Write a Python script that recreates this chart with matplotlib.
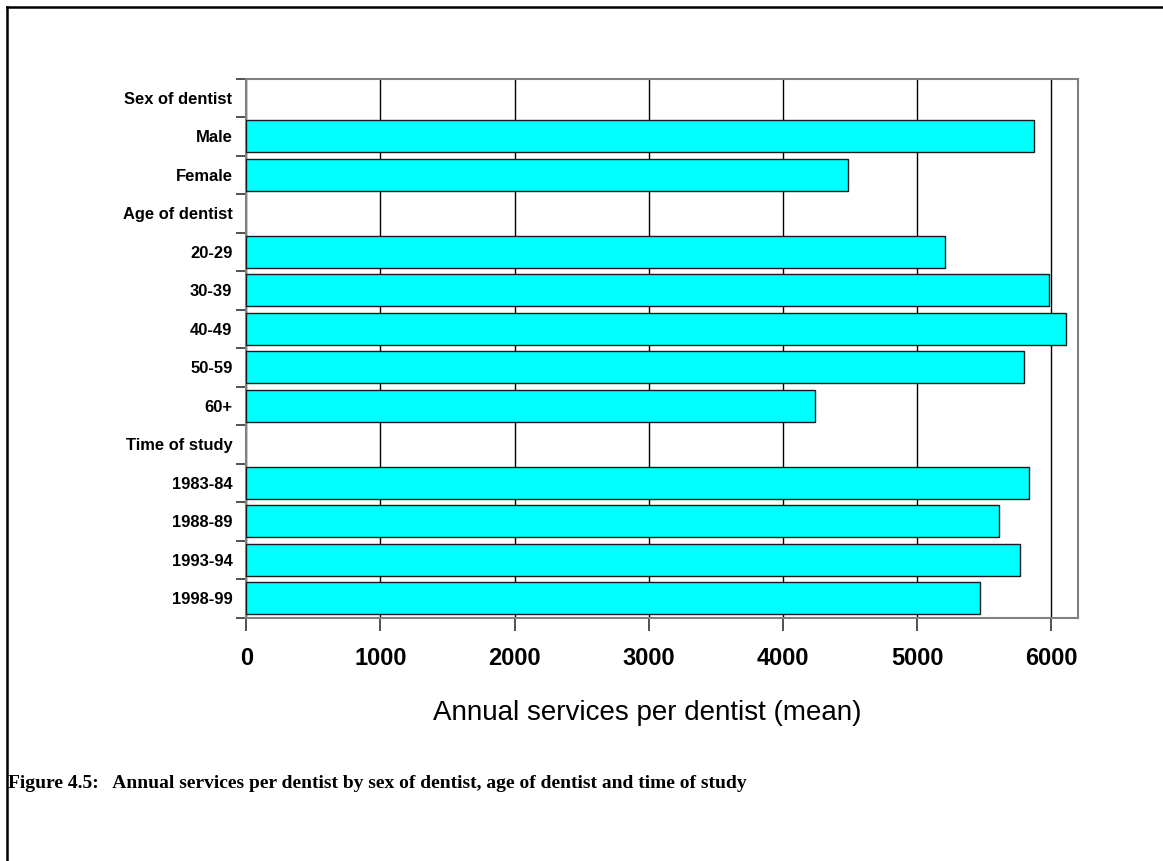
import numpy as np
import matplotlib
matplotlib.use('Agg')
import matplotlib.pyplot as plt
from matplotlib.lines import Line2D

# rows from top to bottom; header rows have no bar
categories = ['Sex of dentist', 'Male', 'Female',
              'Age of dentist', '20-29', '30-39', '40-49', '50-59', '60+',
              'Time of study', '1983-84', '1988-89', '1993-94', '1998-99']
values = [np.nan, 5870, 4483,
          np.nan, 5212, 5985, 6110, 5796, 4242,
          np.nan, 5836, 5610, 5767, 5470]
xticks = [0, 1000, 2000, 3000, 4000, 5000, 6000]
xlabel = 'Annual services per dentist (mean)'
caption = 'Figure 4.5:   Annual services per dentist by sex of dentist, age of dentist and time of study'

W, H = 1163, 861
fig = plt.figure(figsize=(W / 100, H / 100), dpi=100)
fig.patch.set_facecolor('white')

# axes box in pixels: left 246, right 1078, top 79, bottom 618
ax = fig.add_axes([246.3 / W, 1 - 617.7 / H, (1078 - 246.3) / W, (617.7 - 78.7) / H])

n = len(categories)
ypos = np.arange(n) + 0.5
for y, v in zip(ypos, values):
    if np.isnan(v):
        continue
    ax.barh(y, v, height=0.83, color='#00FFFF', edgecolor='#1a1a1a', linewidth=1.0, zorder=3)

ax.set_xlim(0, 6200)
ax.set_ylim(n, 0)

ax.set_xticks(xticks)
ax.set_xticklabels([str(t) for t in xticks], fontsize=17, fontweight='bold', family='Liberation Sans')
ax.tick_params(axis='x', direction='out', length=9, width=1.2, color='#333333', pad=12)

ax.set_yticks(np.arange(n + 1))
ax.set_yticklabels([])
ax.tick_params(axis='y', which='major', direction='out', length=7, width=1.2, color='#333333')
ax.set_yticks(ypos, minor=True)
ax.set_yticklabels(categories, minor=True, fontsize=11.9, fontweight='bold', family='Liberation Sans')
ax.tick_params(axis='y', which='minor', length=0, pad=10)

ax.grid(axis='x', color='black', linewidth=1.0, zorder=0)
ax.set_axisbelow(True)
for s in ax.spines.values():
    s.set_color('#808080')
    s.set_linewidth(1.5)

ax.set_xlabel(xlabel, fontsize=20, family='Liberation Sans')
ax.xaxis.set_label_coords((647 - 246.3) / (1078 - 246.3), (617.7 - 713) / (617.7 - 78.7))
ax.xaxis.label.set_va('center')

fig.text(8 / W, 1 - 783 / H, caption, fontsize=14, fontweight='bold',
         family='Liberation Serif', va='center', ha='left')

# page frame (left and top edges)
fig.add_artist(Line2D([6.5 / W, 6.5 / W], [0, 1 - 6.5 / H], transform=fig.transFigure, color='black', lw=1.8))
fig.add_artist(Line2D([6.5 / W, 1], [1 - 6.5 / H, 1 - 6.5 / H], transform=fig.transFigure, color='black', lw=1.8))

fig.savefig('out.png', dpi=100)
